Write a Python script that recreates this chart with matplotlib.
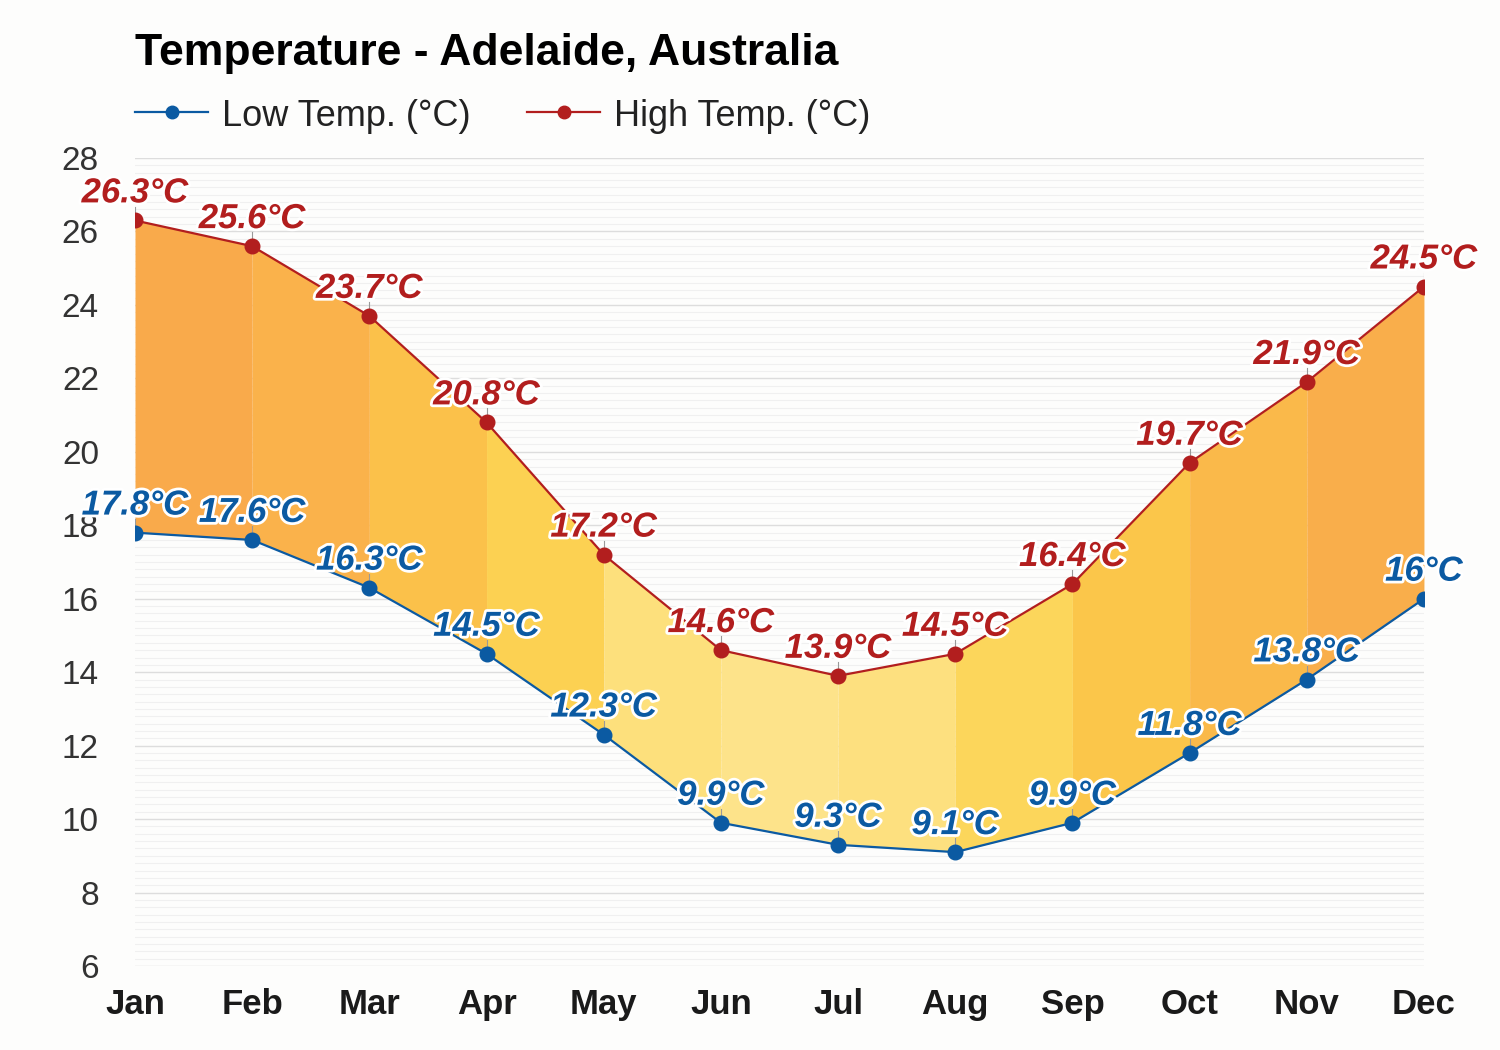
import matplotlib
matplotlib.use("Agg")
import matplotlib.pyplot as plt
import matplotlib.patheffects as pe
from matplotlib.ticker import MultipleLocator
from matplotlib.lines import Line2D

plt.rcParams['font.family'] = ['Liberation Sans', 'DejaVu Sans']

# data
months = ['Jan', 'Feb', 'Mar', 'Apr', 'May', 'Jun',
          'Jul', 'Aug', 'Sep', 'Oct', 'Nov', 'Dec']
low_temp = [17.8, 17.6, 16.3, 14.5, 12.3, 9.9, 9.3, 9.1, 9.9, 11.8, 13.8, 16.0]
high_temp = [26.3, 25.6, 23.7, 20.8, 17.2, 14.6, 13.9, 14.5, 16.4, 19.7, 21.9, 24.5]
low_labels = ['17.8°C', '17.6°C', '16.3°C', '14.5°C', '12.3°C', '9.9°C',
              '9.3°C', '9.1°C', '9.9°C', '11.8°C', '13.8°C', '16°C']
high_labels = ['26.3°C', '25.6°C', '23.7°C', '20.8°C', '17.2°C', '14.6°C',
               '13.9°C', '14.5°C', '16.4°C', '19.7°C', '21.9°C', '24.5°C']
# fill colour of each month-to-month band
band_colors = ['#F9AA4B', '#FAB24B', '#FBC14A', '#FCD152', '#FDE07C', '#FDE38A',
               '#FDE07F', '#FCD65B', '#FBC64A', '#FAB94A', '#F9AE4B']

low_color = '#0B5AA2'
high_color = '#B21E1E'
bg = '#FDFDFC'

W, H = 1500, 1050
fig = plt.figure(figsize=(15, 10.5), dpi=100, facecolor=bg)
ax = fig.add_axes([0.09, 0.08, 0.8593, 0.7695], facecolor=bg)

x = list(range(len(months)))

# coloured bands between low and high
for i in range(len(months) - 1):
    ax.fill_between(x[i:i + 2], low_temp[i:i + 2], high_temp[i:i + 2],
                    color=band_colors[i], linewidth=0, zorder=2)

ax.plot(x, low_temp, color=low_color, lw=1.6, marker='o', ms=10.5, zorder=4)
ax.plot(x, high_temp, color=high_color, lw=1.6, marker='o', ms=10.5, zorder=4)

outline = [pe.withStroke(linewidth=4, foreground='white')]
for xi, lo, hi, tl, th in zip(x, low_temp, high_temp, low_labels, high_labels):
    for val, txt, col in ((lo, tl, low_color), (hi, th, high_color)):
        ax.plot([xi, xi], [val, val + 0.38], color='#999999', lw=0.8, zorder=3)
        ax.annotate(txt, (xi, val), xytext=(0, 13), textcoords='offset points',
                    ha='center', va='baseline', fontsize=25, fontweight='bold',
                    fontstyle='italic', color=col, path_effects=outline,
                    zorder=5, annotation_clip=False)

ax.set_xlim(0, 11)
ax.set_ylim(6, 28)
ax.set_xticks(x)
ax.set_xticklabels(months, fontsize=25, fontweight='bold', color='#1A1A1A')
ax.yaxis.set_major_locator(MultipleLocator(2))
ax.yaxis.set_minor_locator(MultipleLocator(0.2))
ax.tick_params(axis='y', labelsize=24, colors='#333333', length=0, pad=26, which='both')
ax.tick_params(axis='x', length=0, pad=16)
ax.grid(axis='y', which='major', color='#DDDDDD', lw=1, zorder=0)
ax.grid(axis='y', which='minor', color='#F0F0F0', lw=0.8, zorder=0)
for s in ax.spines.values():
    s.set_visible(False)

fig.text(135 / W, 1 - 65 / H, 'Temperature - Adelaide, Australia', fontsize=32,
         fontweight='bold', ha='left', va='baseline', color='black')

# legend drawn by hand to sit flush with the title
leg_y = 1 - 112 / H
for x0, col, lab in ((135, low_color, 'Low Temp. (°C)'),
                     (527, high_color, 'High Temp. (°C)')):
    fig.add_artist(Line2D([x0 / W, (x0 + 73) / W], [leg_y, leg_y], color=col, lw=1.6))
    fig.add_artist(Line2D([(x0 + 36.5) / W], [leg_y], color=col, marker='o', ms=9))
    fig.text((x0 + 87) / W, leg_y, lab, fontsize=26, color='#222222',
             ha='left', va='center_baseline')

fig.savefig('out.png', dpi=100, facecolor=bg)
